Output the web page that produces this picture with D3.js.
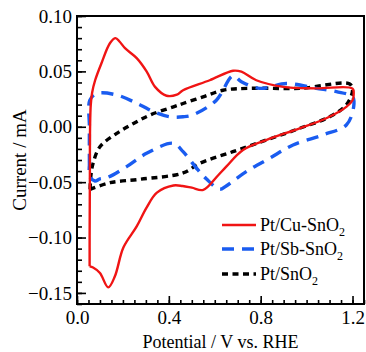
<!DOCTYPE html>
<html><head><meta charset="utf-8">
<script src="https://cdn.jsdelivr.net/npm/d3@7"></script>
<style>body{margin:0;background:#fff}svg{display:block}text{font-family:"Liberation Serif","Times New Roman",serif}</style>
</head><body><svg id="c" width="366" height="352"></svg>
<script>
// Pt/Cu-SnO2 : [potential V, current mA]
const cuSnO2 = [[0.055,-0.126],[0.055,-0.10],[0.056,-0.05],[0.057,0.0],[0.060,0.020],[0.066,0.031],[0.079,0.042],[0.107,0.0576],[0.144,0.0756],[0.168,0.080],[0.185,0.077],[0.209,0.071],[0.26,0.062],[0.303,0.050],[0.34,0.036],[0.39,0.028],[0.435,0.029],[0.462,0.033],[0.578,0.042],[0.68,0.0506],[0.716,0.0497],[0.781,0.042],[0.898,0.036],[1.042,0.0347],[1.2,0.0345],[1.205,0.029],[1.2,0.024],[1.173,0.018],[1.086,0.0077],[0.97,-0.0014],[0.824,-0.012],[0.723,-0.021],[0.65,-0.036],[0.614,-0.044],[0.55,-0.057],[0.50,-0.055],[0.46,-0.0535],[0.42,-0.053],[0.348,-0.0595],[0.303,-0.073],[0.26,-0.090],[0.202,-0.109],[0.165,-0.135],[0.136,-0.145],[0.10,-0.132],[0.07,-0.127],[0.055,-0.126]];
// Pt/Sb-SnO2
const sbSnO2 = [[0.054,-0.035],[0.054,0.0],[0.056,0.024],[0.086,0.030],[0.173,0.0287],[0.275,0.0197],[0.333,0.0136],[0.405,0.009],[0.462,0.009],[0.505,0.0107],[0.607,0.024],[0.679,0.046],[0.716,0.0407],[0.796,0.0347],[0.912,0.039],[1.042,0.0347],[1.13,0.0317],[1.2,0.027],[1.205,0.018],[1.173,0.0016],[1.071,-0.0074],[0.941,-0.0164],[0.839,-0.0284],[0.737,-0.0405],[0.65,-0.0534],[0.621,-0.0564],[0.563,-0.047],[0.527,-0.039],[0.462,-0.0225],[0.42,-0.0149],[0.303,-0.024],[0.216,-0.036],[0.13,-0.046],[0.10,-0.047],[0.078,-0.049],[0.056,-0.045],[0.054,-0.035]];
// Pt/SnO2
const snO2 = [[0.057,-0.0565],[0.060,-0.045],[0.07,-0.033],[0.10,-0.018],[0.173,-0.006],[0.246,0.003],[0.319,0.0107],[0.42,0.018],[0.462,0.021],[0.549,0.027],[0.636,0.033],[0.752,0.0347],[0.97,0.0347],[1.188,0.0386],[1.2,0.033],[1.173,0.0197],[1.10,0.009],[0.97,-0.0014],[0.825,-0.012],[0.679,-0.0225],[0.534,-0.033],[0.462,-0.0417],[0.275,-0.0474],[0.144,-0.0505],[0.057,-0.0565]];
const seriesNames = ["Pt/Cu-SnO", "Pt/Sb-SnO", "Pt/SnO"];
const xTicks = [0.0, 0.4, 0.8, 1.2];
const yTicks = [0.10, 0.05, 0.00, -0.05, -0.10, -0.15];
const xMinor = d3.range(0, 1.2501, 0.05);
const yMinor = d3.range(-0.16, 0.1001, 0.01);

const svg = d3.select("#c");
const L = 77, R = 364, T = 16, B = 304;
const x = d3.scaleLinear().domain([0, 1.25]).range([L, R]);
const y = d3.scaleLinear().domain([-0.16, 0.10]).range([B, T]);

// ticks
const gx = svg.append("g").attr("transform", `translate(0,${B})`);
gx.call(d3.axisBottom(x).tickValues(xMinor).tickSize(-4).tickFormat(""));
gx.call(g => g.select(".domain").remove());
const gx2 = svg.append("g").attr("transform", `translate(0,${B})`)
  .call(d3.axisBottom(x).tickValues(xTicks).tickSize(-8).tickPadding(7).tickFormat(d3.format(".1f")));
gx2.select(".domain").remove();
const gy = svg.append("g").attr("transform", `translate(${L},0)`);
gy.call(d3.axisLeft(y).tickValues(yMinor).tickSize(-5).tickFormat(""));
gy.select(".domain").remove();
const gy2 = svg.append("g").attr("transform", `translate(${L},0)`)
  .call(d3.axisLeft(y).tickValues(yTicks).tickSize(-9).tickPadding(6).tickFormat(d3.format(".2f")));
gy2.select(".domain").remove();
svg.selectAll(".tick line").attr("stroke", "#000").attr("stroke-width", 1.6);
svg.selectAll(".tick text").attr("font-size", 19).attr("font-family", "Liberation Serif").attr("fill", "#000");
gy2.selectAll(".tick text").attr("x", -5);
gx2.selectAll(".tick text").attr("y", 7).attr("dy", "0.71em");

// curves
const line = d3.line().x(d => x(d[0])).y(d => y(d[1])).curve(d3.curveCatmullRom.alpha(0.5));
const clip = svg.append("clipPath").attr("id","pc").append("rect").attr("x",L).attr("y",T).attr("width",R-L).attr("height",B-T);
const styles = [
  {data: cuSnO2, color: "#f01414", w: 2.4, dash: null},
  {data: sbSnO2, color: "#1a5cf0", w: 3.4, dash: "12,8"},
  {data: snO2, color: "#000", w: 3.4, dash: "6,4.5"}
];
styles.slice().reverse().forEach(s => {
  svg.append("path").attr("d", line(s.data)).attr("fill", "none")
    .attr("stroke", s.color).attr("stroke-width", s.w)
    .attr("stroke-dasharray", s.dash).attr("clip-path","url(#pc)");
});

// frame
svg.append("rect").attr("x", L).attr("y", T).attr("width", R - L).attr("height", B - T)
  .attr("fill", "none").attr("stroke", "#000").attr("stroke-width", 2);

// axis titles
svg.append("text").attr("x", (L + R) / 2).attr("y", 348).attr("text-anchor", "middle")
  .attr("font-size", 18).text("Potential / V vs. RHE");
svg.append("text").attr("transform", `translate(26,${(T + B) / 2}) rotate(-90)`).attr("text-anchor", "middle")
  .attr("font-size", 19).text("Current / mA");

// legend
const leg = svg.append("g");
const ly = [225, 249, 274];
styles.forEach((s, i) => {
  leg.append("line").attr("x1", 222).attr("x2", 256).attr("y1", ly[i]).attr("y2", ly[i])
    .attr("stroke", s.color).attr("stroke-width", s.w).attr("stroke-dasharray", s.dash);
  const t = leg.append("text").attr("x", 260).attr("y", ly[i] + 6).attr("font-size", 18);
  t.append("tspan").text(seriesNames[i]);
  t.append("tspan").attr("font-size", 12).attr("dy", 5).text("2");
});
</script></body></html>
